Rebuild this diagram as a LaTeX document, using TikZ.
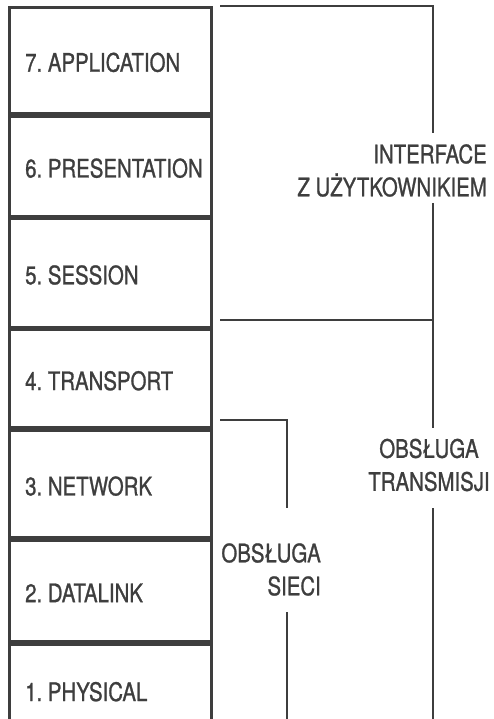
\documentclass[tikz,border=0pt]{standalone}
\usepackage{fontspec}
\setmainfont{TeX Gyre Heros}[FakeStretch=0.8,FakeBold=1.0]
\definecolor{ink}{HTML}{3E3E3E}
\newcommand\lblfont{\fontsize{25.5}{33}\selectfont\frenchspacing}
\tikzset{
  layer/.style={draw=ink, line width=2.8pt, minimum width=202pt,
    inner sep=0pt, anchor=north west},
  br/.style={draw=ink, line width=1.8pt},
  tag/.style={text=ink, inner sep=0pt, font=\lblfont},
  lname/.style={tag, anchor=west, xshift=17pt, yshift=-2pt}
}
\begin{document}
\begin{tikzpicture}[x=1pt,y=-1pt]
\useasboundingbox (0,0) rectangle (493,719);
% OSI layers
\node[layer, minimum height=106pt] (l7) at (8,6) {};
\node[layer, minimum height=100pt] (l6) at (l7.south west) {};
\node[layer, minimum height=108pt] (l5) at (l6.south west) {};
\node[layer, minimum height=98pt]  (l4) at (l5.south west) {};
\node[layer, minimum height=107pt] (l3) at (l4.south west) {};
\node[layer, minimum height=101pt] (l2) at (l3.south west) {};
\node[layer, minimum height=91pt]  (l1) at (l2.south west) {};
\node[lname] (t7) at (l7.west) {7. APPLICATION};
\node[lname] (t6) at (l6.west) {6. PRESENTATION};
\node[lname] (t5) at (l5.west) {5. SESSION};
\node[lname] (t4) at (l4.west) {4. TRANSPORT};
\node[lname] (t3) at (l3.west) {3. NETWORK};
\node[lname] (t2) at (l2.west) {2. DATALINK};
\node[lname] (t1) at (l1.west) {1. PHYSICAL};
% labels
\node[tag, anchor=east, align=right] (iface) at (487,170.5) {INTERFACE\\Z UŻYTKOWNIKIEM};
\node[tag, align=center] (trans) at (429,465) {OBSŁUGA\\TRANSMISJI};
\node[tag, anchor=east, align=right] (sieci) at (321,569.5) {OBSŁUGA\\SIECI};
% bracket: interface z uzytkownikiem (layers 7-5)
\coordinate (a1) at (220,6);
\coordinate (a2) at (433,6);
\coordinate (a3) at (433,133);
\coordinate (a4) at (433,203);
\coordinate (a5) at (433,320);
\coordinate (a6) at (220,320);
\draw[br] (a1) -- (a2) -- (a3);
\draw[br] (a4) -- (a5) -- (a6);
% bracket: obsluga transmisji (layers 4-1)
\coordinate (b1) at (433,428);
\coordinate (b2) at (433,508);
\coordinate (b3) at (433,722);
\draw[br] (a5) -- (b1);
\draw[br] (b2) -- (b3);
% bracket: obsluga sieci (layers 3-1)
\coordinate (c1) at (220,420);
\coordinate (c2) at (287,420);
\coordinate (c3) at (287,508);
\coordinate (c4) at (287,612);
\coordinate (c5) at (287,722);
\draw[br] (c1) -- (c2) -- (c3);
\draw[br] (c4) -- (c5);
\end{tikzpicture}
\end{document}
